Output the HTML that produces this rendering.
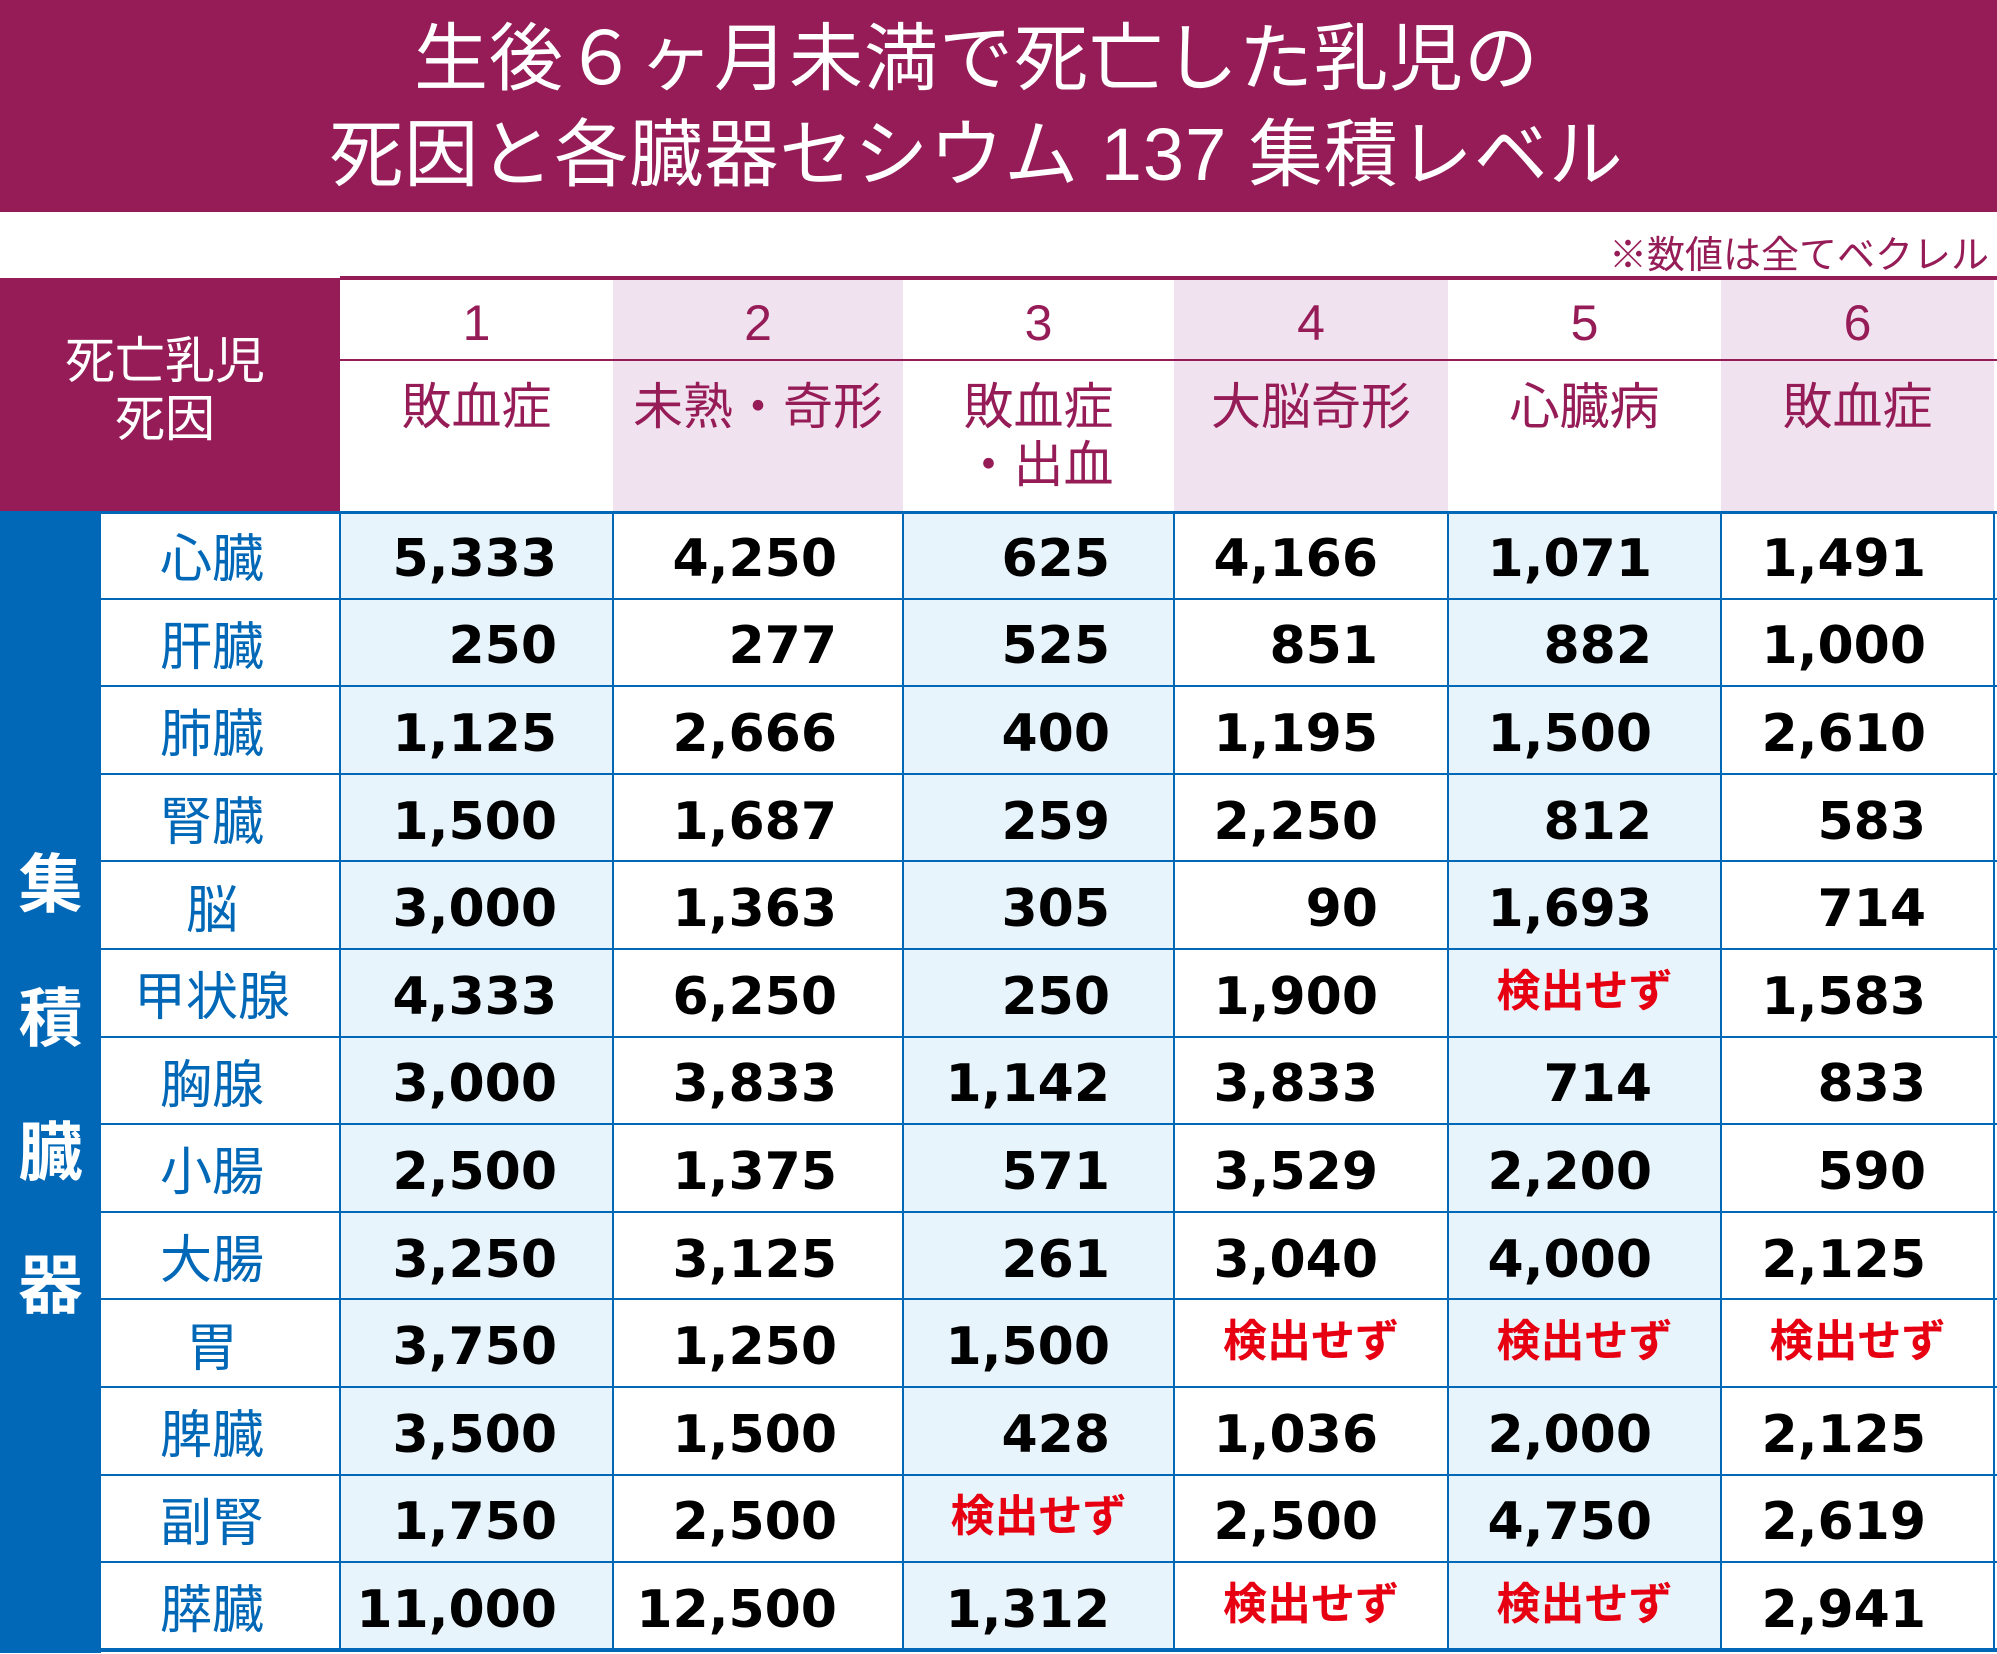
<!DOCTYPE html>
<html><head><meta charset="utf-8"><style>
body{margin:0;width:1997px;height:1653px;position:relative;background:#fff;font-family:"Liberation Sans","Noto Sans CJK JP",sans-serif;overflow:hidden}
.a{position:absolute;box-sizing:border-box}
.t{position:absolute;left:-22px;width:1997px;text-align:center;color:#fff;font-size:74px;line-height:1;letter-spacing:1px}
.c{display:flex;align-items:center}
</style></head><body>
<div class="a" style="left:0;top:0;width:1997px;height:212px;background:#961c57"></div>
<div class="t" style="top:22px">生後６ヶ月未満で死亡した乳児の</div>
<div class="t" style="top:118px">死因と各臓器セシウム 137 集積レベル</div>
<div class="a" style="right:8px;top:224px;font-size:38px;color:#961c57">※数値は全てベクレル</div>
<div class="a" style="left:0;top:278px;width:340px;height:233px;background:#961c57"></div>
<div class="a" style="left:0;top:332px;width:330px;text-align:center;color:#fff;font-size:50px;line-height:58px">死亡乳児<br>死因</div>
<div class="a" style="left:340px;top:276px;width:1657px;height:4px;background:#961c57"></div>
<div class="a" style="left:0;top:511px;width:101px;height:1142px;background:#0068b7"></div>
<div id="g"></div>
<script>
var cols=[340,613,903,1174,1448,1721,1994];
var causes=[["敗血症"],["未熟・奇形"],["敗血症","・出血"],["大脳奇形"],["心臓病"],["敗血症"]];
var organs=["心臓","肝臓","肺臓","腎臓","脳","甲状腺","胸腺","小腸","大腸","胃","脾臓","副腎","膵臓"];
var N="検出せず";
var d=[["5,333","4,250","625","4,166","1,071","1,491"],["250","277","525","851","882","1,000"],["1,125","2,666","400","1,195","1,500","2,610"],["1,500","1,687","259","2,250","812","583"],["3,000","1,363","305","90","1,693","714"],["4,333","6,250","250","1,900",N,"1,583"],["3,000","3,833","1,142","3,833","714","833"],["2,500","1,375","571","3,529","2,200","590"],["3,250","3,125","261","3,040","4,000","2,125"],["3,750","1,250","1,500",N,N,N],["3,500","1,500","428","1,036","2,000","2,125"],["1,750","2,500",N,"2,500","4,750","2,619"],["11,000","12,500","1,312",N,N,"2,941"]];
var pads=[56,66,64,70,69,68];
var h="";var t0=511,rh=87.6;
for(var i=0;i<6;i++){var x=cols[i],w=cols[i+1]-x;
 h+='<div class="a" style="left:'+x+'px;top:280px;width:'+w+'px;height:231px;background:'+(i%2?'#f0e3ef':'#fff')+'"></div>';
 h+='<div class="a" style="left:'+x+'px;top:294px;width:'+w+'px;text-align:center;color:#961c57;font-size:50px">'+(i+1)+'</div>';
 h+='<div class="a" style="left:'+x+'px;top:378px;width:'+w+'px;text-align:center;color:#961c57;font-size:50px;line-height:58px">'+causes[i].join('<br>')+'</div>';
 h+='<div class="a" style="left:'+x+'px;top:511px;width:'+w+'px;height:1140px;background:'+(i%2?'#fff':'#e8f4fc')+'"></div>';
}
h+='<div class="a" style="left:340px;top:359px;width:1657px;height:2px;background:#961c57"></div>';
for(var r=0;r<13;r++){var y=t0+r*rh;
 h+='<div class="a c" style="left:101px;top:'+y+'px;width:222px;height:'+rh+'px;justify-content:center;color:#0068b7;font-size:52px">'+organs[r]+'</div>';
 for(var i=0;i<6;i++){var x=cols[i],w=cols[i+1]-x,v=d[r][i];
  if(v==N) h+='<div class="a c" style="left:'+x+'px;top:'+(y-6)+'px;width:'+w+'px;height:'+rh+'px;justify-content:center;color:#e60012;font-weight:bold;font-size:44px">'+v+'</div>';
  else h+='<div class="a c" style="left:'+x+'px;top:'+(y+4)+'px;width:'+w+'px;height:'+rh+'px;justify-content:flex-end;padding-right:'+pads[i]+'px;color:#000;font-weight:bold;font-size:52px;font-family:\'DejaVu Sans\',sans-serif">'+v+'</div>';
 }
 h+='<div class="a" style="left:101px;top:'+(y+rh-1)+'px;width:1896px;height:2px;background:#0068b7"></div>';
}
h+='<div class="a" style="left:101px;top:511px;width:1896px;height:3px;background:#0068b7"></div>';
h+='<div class="a" style="left:101px;top:1648px;width:1896px;height:4px;background:#0068b7"></div>';
for(var i=0;i<7;i++)h+='<div class="a" style="left:'+(cols[i]-1)+'px;top:511px;width:2px;height:1140px;background:#0068b7"></div>';
var v=["集","積","臓","器"],vy=[885,1019,1153,1286];
for(var k=0;k<4;k++)h+='<div class="a" style="left:0;top:'+(vy[k]-34)+'px;width:101px;text-align:center;color:#fff;font-weight:bold;font-size:64px;line-height:68px">'+v[k]+'</div>';
document.getElementById('g').innerHTML=h;
</script>
</body></html>
